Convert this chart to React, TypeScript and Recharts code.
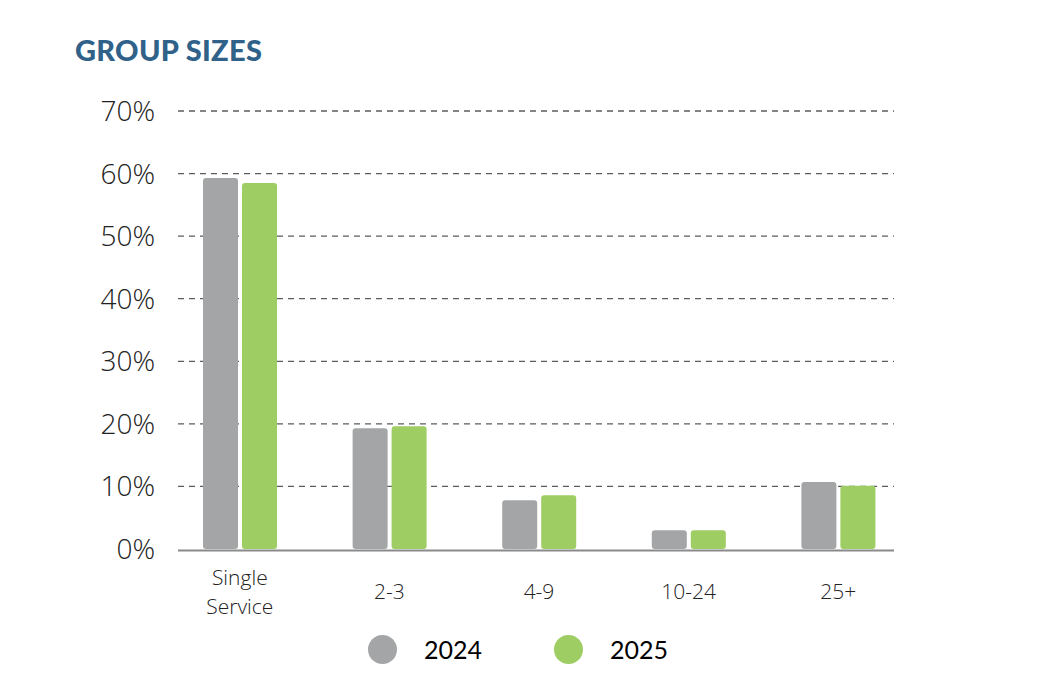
import React from 'react';
import { BarChart, Bar, XAxis, YAxis, CartesianGrid, ReferenceLine } from 'recharts';

const CATEGORIES = ['Single Service', '2-3', '4-9', '10-24', '25+'];
const SERIES_2024 = [59.3, 19.3, 7.8, 3.0, 10.7];
const SERIES_2025 = [58.5, 19.6, 8.6, 3.0, 10.1];
const Y_TICKS = [0, 10, 20, 30, 40, 50, 60, 70];
const LEGEND_ITEMS = ['2024', '2025'];

const COLORS = {
  y2024: '#a3a5a6',
  y2025: '#9dcd63',
  grid: '#5c5c5c',
  axis: '#8a8a8a',
  title: '#2f6189',
  text: '#222222',
};

const data = CATEGORIES.map((name, i) => ({
  name,
  y2024: SERIES_2024[i],
  y2025: SERIES_2025[i],
}));

const CHART_H = 693;
const MARGIN = { top: 111, right: 128, bottom: 114, left: 85 };
const X_AXIS_H = 30;
const PLOT_BOTTOM = CHART_H - MARGIN.bottom - X_AXIS_H;

// grid lines are a bit shorter than the category bands
const GRID_INSET_LEFT = 13;
const GRID_INSET_RIGHT = 19;

const GridLine = (props: any) => {
  const { x1, x2, y1, y2 } = props;
  if (Math.abs(y1 - PLOT_BOTTOM) < 1) return null; // solid base line drawn separately
  return (
    <line
      x1={x1 + GRID_INSET_LEFT}
      x2={x2 - GRID_INSET_RIGHT}
      y1={y1}
      y2={y2}
      stroke={COLORS.grid}
      strokeWidth={1.3}
      strokeDasharray="6 5"
    />
  );
};

const BaseLine = (props: any) => {
  const { x1, x2, y1 } = props;
  return (
    <line
      x1={x1 + GRID_INSET_LEFT}
      x2={x2 - GRID_INSET_RIGHT}
      y1={y1 + 1.5}
      y2={y1 + 1.5}
      stroke={COLORS.axis}
      strokeWidth={2}
    />
  );
};

const CategoryTick = ({ x, y, payload }: any) => {
  const words = String(payload.value).split(' ');
  const style = { fontFamily: 'Open Sans, sans-serif', fontWeight: 300, fontSize: 21, fill: COLORS.text };
  if (words.length > 1) {
    return (
      <g>
        {words.map((w, i) => (
          <text key={w} x={x} y={y + 28 + i * 29} textAnchor="middle" style={style}>
            {w}
          </text>
        ))}
      </g>
    );
  }
  return (
    <text x={x} y={y + 42} textAnchor="middle" style={style}>
      {payload.value}
    </text>
  );
};

const legendColors = [COLORS.y2024, COLORS.y2025];
const legendLefts = [368, 554];

export default function App() {
  return (
    <div style={{ position: 'absolute', left: 0, top: 0, width: 1041, height: 693, background: '#fff' }}>
      <div
        style={{
          position: 'absolute',
          left: 75,
          top: 32,
          fontFamily: 'Lato, sans-serif',
          fontWeight: 900,
          fontSize: 29,
          color: COLORS.title,
          letterSpacing: 0.3,
        }}
      >
        GROUP SIZES
      </div>
      <BarChart width={1041} height={CHART_H} data={data} margin={MARGIN} barSize={35} barGap={4}>
        <CartesianGrid vertical={false} horizontal={(p: any) => <GridLine key={p.key} {...p} />} />
        <XAxis dataKey="name" axisLine={false} tickLine={false} interval={0} tick={<CategoryTick />} height={X_AXIS_H} />
        <YAxis
          width={80}
          domain={[0, 70]}
          ticks={Y_TICKS}
          axisLine={false}
          tickLine={false}
          tickSize={0}
          tickMargin={10}
          tickFormatter={(v: number) => `${v}%`}
          tick={{ fontFamily: 'Open Sans, sans-serif', fontWeight: 300, fontSize: 28, fill: COLORS.text }}
        />
        <ReferenceLine y={0} shape={(p: any) => <BaseLine {...p} />} />
        <Bar dataKey="y2024" name="2024" fill={COLORS.y2024} radius={[3, 3, 3, 3]} isAnimationActive={false} />
        <Bar dataKey="y2025" name="2025" fill={COLORS.y2025} radius={[3, 3, 3, 3]} isAnimationActive={false} />
      </BarChart>
      {LEGEND_ITEMS.map((label, i) => (
        <div
          key={label}
          style={{
            position: 'absolute',
            left: legendLefts[i],
            top: 634,
            display: 'flex',
            alignItems: 'center',
            fontFamily: 'Lato, sans-serif',
            fontWeight: 400,
            fontSize: 25,
            color: '#000',
          }}
        >
          <span style={{ width: 29, height: 29, borderRadius: '50%', background: legendColors[i], display: 'inline-block' }} />
          <span style={{ marginLeft: 27 }}>{label}</span>
        </div>
      ))}
    </div>
  );
}
